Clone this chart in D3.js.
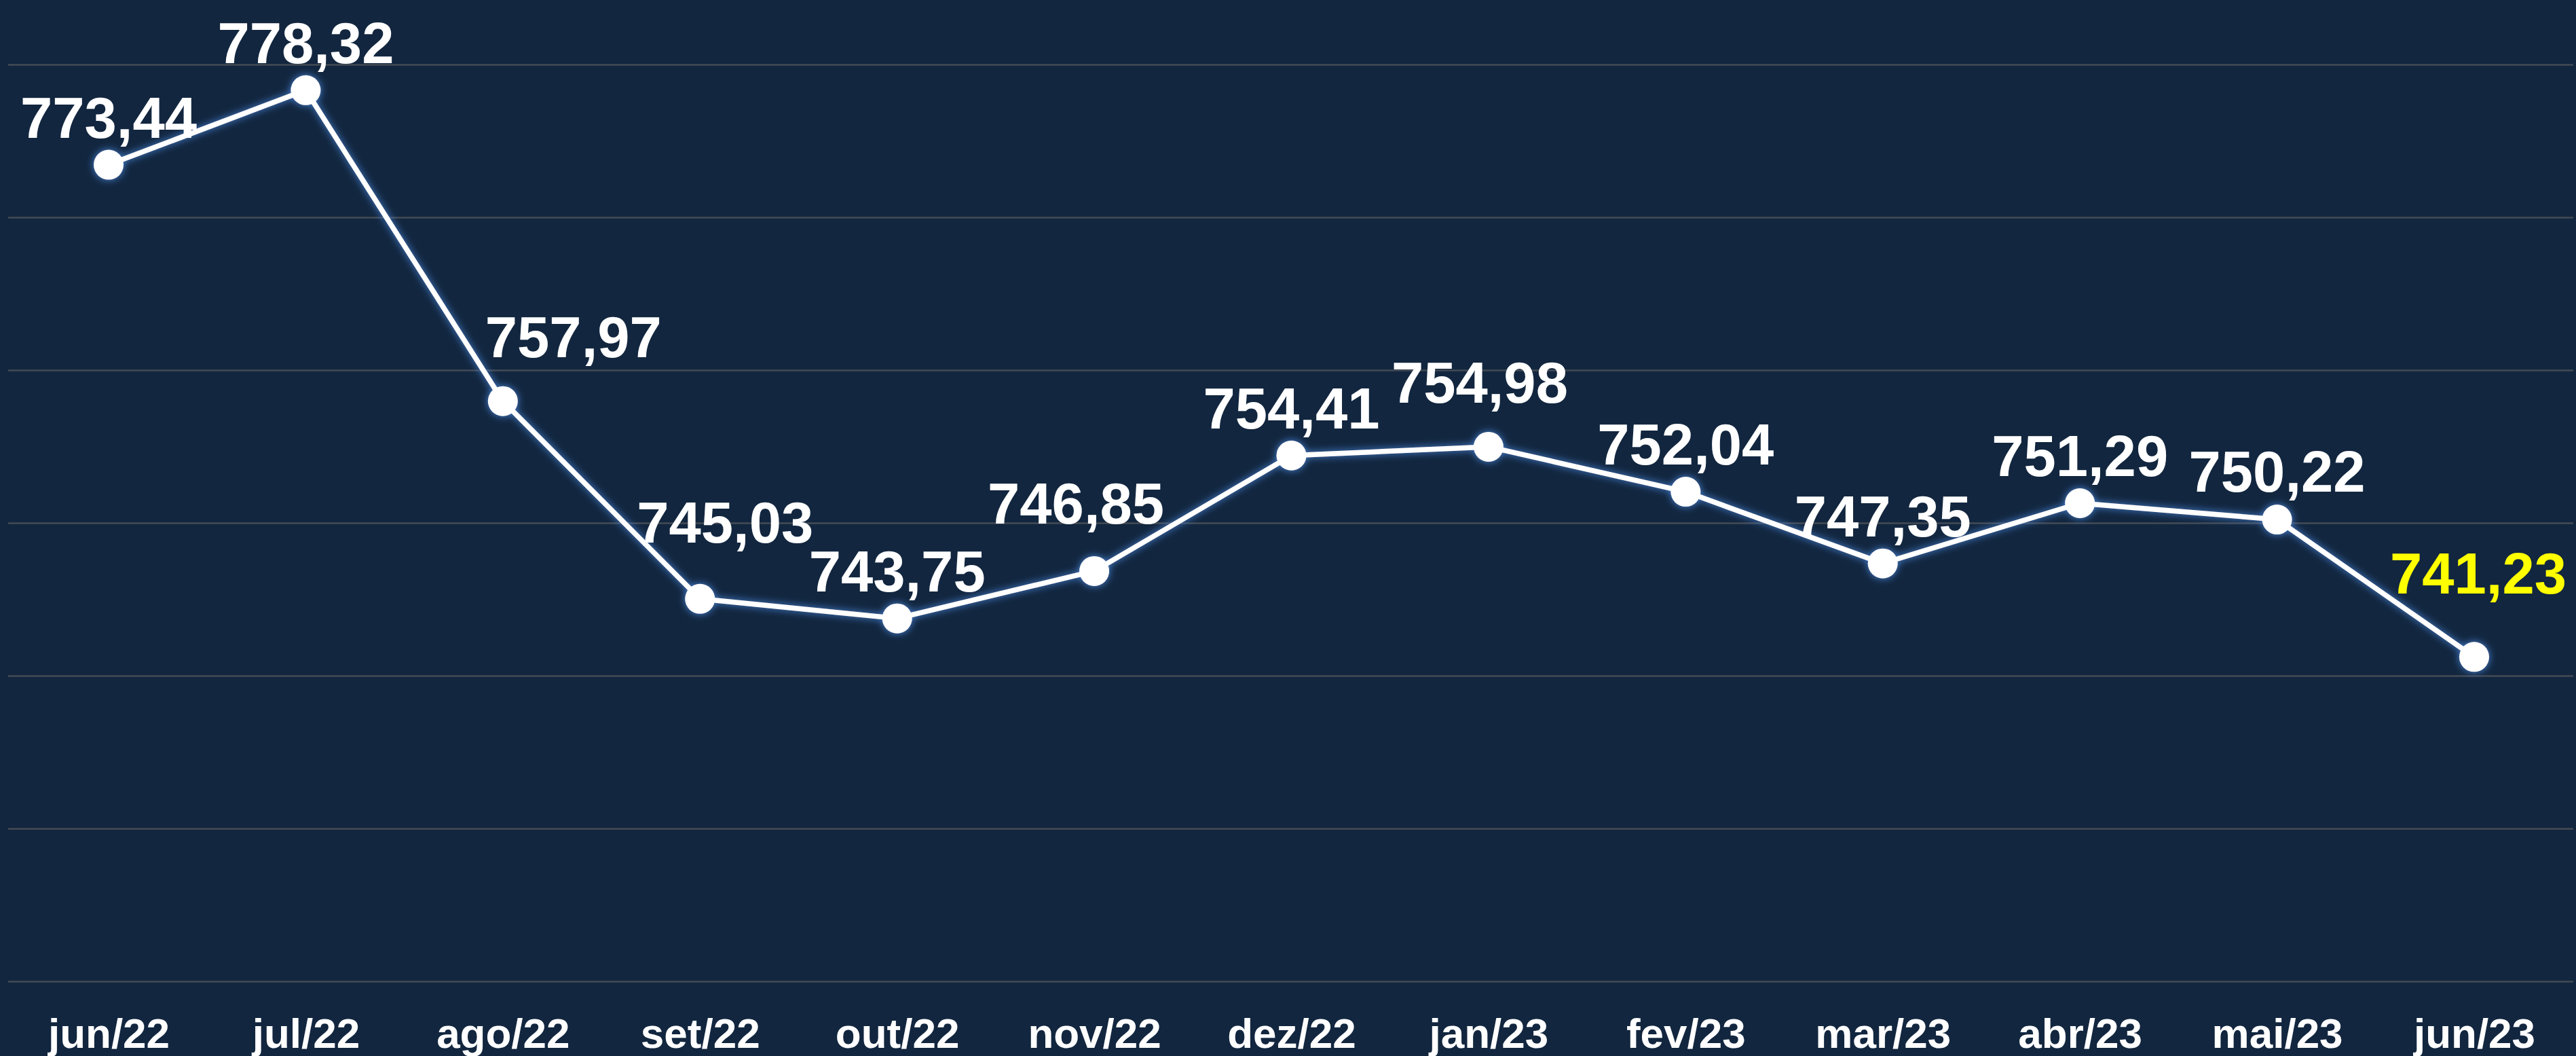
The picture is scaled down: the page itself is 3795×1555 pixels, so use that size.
<!DOCTYPE html>
<html lang="pt">
<head>
<meta charset="UTF-8">
<title>Preço médio</title>
<script src="https://d3js.org/d3.v7.min.js"></script>
<style>
  html, body { margin: 0; padding: 0; background: #12263f; }
  svg { display: block; }
</style>
</head>
<body>
<div id="chart"></div>
<script>
// data
var months = ["jun/22", "jul/22", "ago/22", "set/22", "out/22", "nov/22", "dez/22",
              "jan/23", "fev/23", "mar/23", "abr/23", "mai/23", "jun/23"];
var values = [773.44, 778.32, 757.97, 745.03, 743.75, 746.85, 754.41,
              754.98, 752.04, 747.35, 751.29, 750.22, 741.23];
var gridValues = [720, 730, 740, 750, 760, 770, 780];

// label nudges (px) relative to each point: [dx, dy of baseline]
var labelNudge = [[0, -40], [0, -40], [104, -65], [37, -83], [0, -40], [-27, -70], [0, -40],
                  [-13, -65], [0, -40], [0, -40], [0, -40], [0, -41], [6, -93]];

var W = 3795, H = 1555;

var svg = d3.select("#chart").append("svg")
  .attr("width", W)
  .attr("height", H);

svg.append("rect").attr("width", W).attr("height", H).attr("fill", "#12263f");

// glow for line + markers
var defs = svg.append("defs");
var glow = defs.append("filter").attr("id", "glow")
  .attr("x", "-20%").attr("y", "-20%").attr("width", "140%").attr("height", "140%");
glow.append("feGaussianBlur").attr("in", "SourceAlpha").attr("stdDeviation", 6).attr("result", "blur");
glow.append("feFlood").attr("flood-color", "#4a8ae0").attr("flood-opacity", 1);
glow.append("feComposite").attr("in2", "blur").attr("operator", "in").attr("result", "halo");
var merge = glow.append("feMerge");
merge.append("feMergeNode").attr("in", "halo");
merge.append("feMergeNode").attr("in", "SourceGraphic");

var x = d3.scalePoint()
  .domain(months)
  .range([160, 3645]);

var y = d3.scaleLinear()
  .domain([720, 780])
  .range([1445, 95]);

// gridlines
svg.append("g")
  .attr("transform", "translate(3791,0)")
  .call(d3.axisLeft(y).tickValues(gridValues).tickSize(3779).tickFormat(""))
  .call(function(g) { g.select(".domain").remove(); })
  .selectAll("line")
    .attr("stroke", "#444b55")
    .attr("stroke-width", 2.5);

// x axis labels
svg.append("g")
  .attr("transform", "translate(0,1543)")
  .call(d3.axisBottom(x).tickSize(0).tickPadding(0))
  .call(function(g) { g.select(".domain").remove(); })
  .selectAll("text")
    .attr("dy", 0)
    .attr("y", 0)
    .attr("fill", "#ffffff")
    .style("font-family", "'Liberation Sans', Arial, sans-serif")
    .style("font-weight", "bold")
    .style("font-size", "62px");

var data = months.map(function(m, i) { return {month: m, value: values[i], i: i}; });

var marks = svg.append("g").attr("filter", "url(#glow)");

marks.append("path")
  .datum(data)
  .attr("fill", "none")
  .attr("stroke", "#ffffff")
  .attr("stroke-width", 7.5)
  .attr("stroke-linejoin", "round")
  .attr("d", d3.line()
    .x(function(d) { return x(d.month); })
    .y(function(d) { return y(d.value); }));

marks.selectAll("circle")
  .data(data)
  .enter()
  .append("circle")
    .attr("cx", function(d) { return x(d.month); })
    .attr("cy", function(d) { return y(d.value); })
    .attr("r", 22)
    .attr("fill", "#ffffff");

var fmt = function(v) { return v.toFixed(2).replace(".", ","); };

svg.append("g").selectAll("text")
  .data(data)
  .enter()
  .append("text")
    .attr("x", function(d) { return x(d.month) + labelNudge[d.i][0]; })
    .attr("y", function(d) { return y(d.value) + labelNudge[d.i][1]; })
    .attr("text-anchor", "middle")
    .attr("fill", function(d) { return d.i === data.length - 1 ? "#ffff00" : "#ffffff"; })
    .style("font-family", "'Liberation Sans', Arial, sans-serif")
    .style("font-weight", "bold")
    .style("font-size", "85px")
    .text(function(d) { return fmt(d.value); });
</script>
</body>
</html>
